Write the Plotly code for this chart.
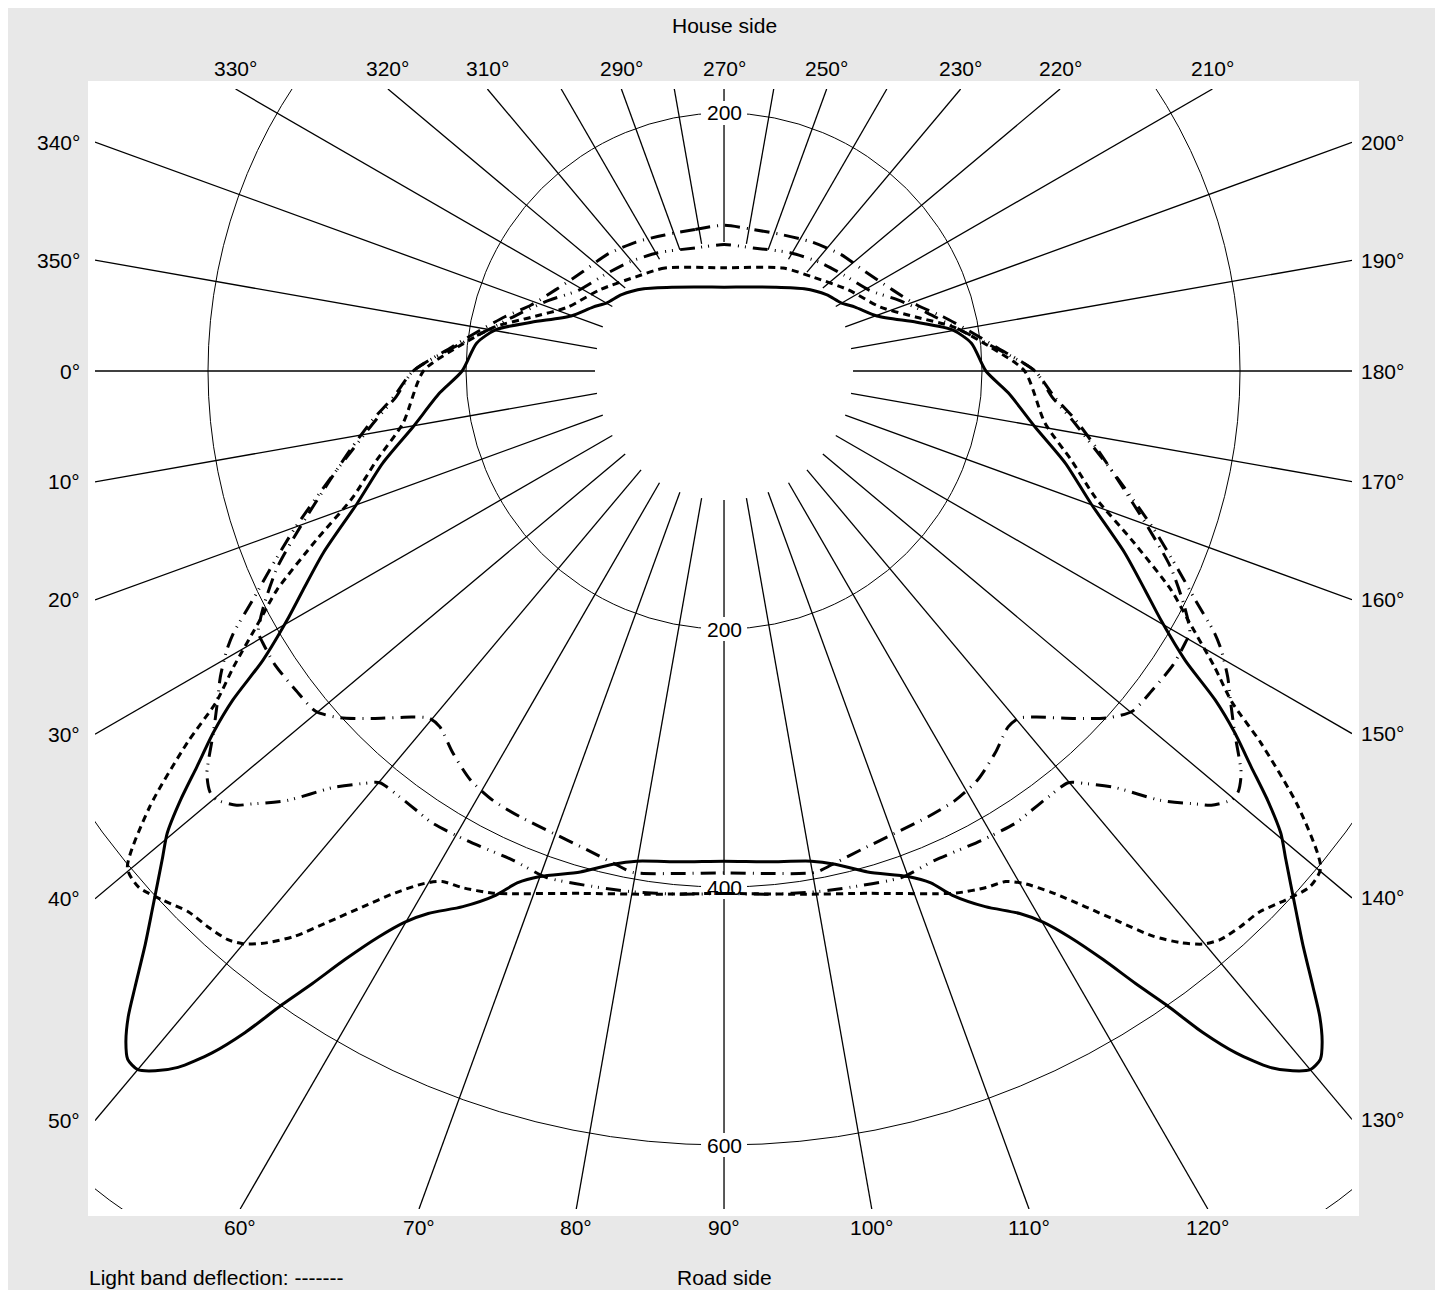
import numpy as np
import plotly.graph_objects as go

# ---------------- data ----------------
# Left half of each (symmetric) curve. Angle in degrees:
# -90 = house side (up), 0 = "0°" (left), 90 = road side (down). Values in cd/klm.
SOLID_ANG = [-90, -58.7, -45.7, -36.7, -30.2, -26.0, -19.8, -14.2, -10.2, -6.4, 0,
             4.4, 10.2, 15.1, 19.8, 24.4, 27.5, 29.7, 32.1, 33.8, 35.3,
             36.9, 38.3, 39.7, 41.0, 43.3, 44.7, 46.3, 47.3, 48.3, 49.1,
             50.0, 50.9, 51.9, 53.1, 54.1, 55.1, 56.1, 57.2, 58.6, 59.9,
             61.4, 64.0, 66.5, 68.0, 70.0, 74.0, 77.3, 79.9, 84.9, 90]
SOLID_VAL = [65, 76, 89, 99, 105, 113, 126, 154, 180, 193, 203,
             221, 245, 274, 302, 341, 368, 390, 422, 458, 485,
             511, 537, 561, 577, 609, 631, 661, 681, 697, 706,
             707, 699, 686, 661, 633, 599, 572, 543, 514, 494,
             479, 462, 443, 428, 417, 404, 392, 386, 382, 380]

DASH_ANG = [-90, -60.2, -46.9, -33.2, -22.2, -15.6, -10.9, -5.2, 0,
            9.2, 14.4, 18.8, 22.5, 26.1, 28.2, 31.1, 33.1, 34.7, 37.2,
            39.8, 41.4, 43.3, 45.3, 47.1, 48.9, 50.1, 51.4, 52.8, 54.3,
            56.0, 57.8, 59.7, 61.1, 63.1, 66.0, 68.0, 74.6, 81.6, 90]
DASH_VAL = [80, 92, 100, 115, 131, 155, 181, 207, 233,
            252, 278, 304, 342, 386, 408, 444, 470, 506, 559,
            602, 605, 598, 590, 588, 585, 579, 567, 550, 526,
            501, 478, 460, 452, 449, 443, 437, 420, 410, 405]

LDD_ANG = [-90, -78.4, -66.5, -55.7, -44.8, -34.9, -25.7, -18.9, -13.9, -8.7,
           -5.0, 0, 4.5, 7.9, 11.9, 15.5, 20.2, 23.7, 27.1, 29.3,
           30.5, 33.2, 36.7, 39.8, 42.1, 44.7, 48.0, 49.7, 51.4, 54.6,
           58.2, 61.7, 65.4, 69.7, 74.0, 77.3, 79.7, 85.0, 90]
LDD_VAL = [113, 112, 115, 121, 128, 134, 145, 158, 175, 195,
           212, 241, 257, 275, 296, 317, 350, 378, 401, 414,
           415, 416, 414, 412, 401, 383, 361, 353, 353, 363,
           373, 378, 380, 382, 386, 391, 395, 391, 389]

DDD_ANG = [-90, -76.7, -60.8, -48.9, -38.7, -29.0, -22.1, -15.9, -9.8, -5.6,
           0, 4.5, 7.9, 11.9, 15.5, 20.2, 23.7, 25.9, 28.1, 29.3,
           31.3, 33.0, 35.3, 37.9, 39.3, 40.2, 41.7, 42.4, 44.5, 46.8,
           48.8, 50.1, 52.7, 55.5, 57.2, 61.3, 66.7, 70.7, 76.2, 79.8,
           85.2, 90]
DDD_VAL = [98, 98, 105, 112, 119, 129, 146, 164, 186, 207,
           241, 255, 272, 294, 318, 355, 385, 406, 431, 442,
           457, 468, 485, 508, 515, 515, 506, 498, 475, 443,
           425, 416, 415, 416, 417, 415, 413, 416, 412, 410,
           407, 405]

CIRCLE_VALUES = [200, 400, 600, 800]
RADIAL_TICKS = [200, 400, 600]
RAY_ANGLES = list(range(0, 360, 10))
LABEL_ANGLES = [330, 320, 310, 290, 270, 250, 230, 220, 210,
                340, 350, 0, 10, 20, 30, 40, 50,
                200, 190, 180, 170, 160, 150, 140, 130,
                60, 70, 80, 90, 100, 110, 120]
RAY_START = 100

TITLE_TOP = "House side"
TITLE_BOTTOM = "Road side"
FOOTNOTE = "Light band deflection: -------"

# ---------------- layout constants ----------------
X_RANGE = [-487.6, 486.8]
Y_RANGE = [-649.6, 218.6]
W, H = 1443, 1290
M = dict(l=87, r=W - 1344, t=81, b=H - 1201, pad=0)
PLOT_W = W - M["l"] - M["r"]
PLOT_H = H - M["t"] - M["b"]
FONT = "Arial, 'Liberation Sans', Helvetica, sans-serif"
FS = 21
BG = "#e8e8e8"


def to_xy(theta_deg, r):
    t = np.radians(np.asarray(theta_deg, dtype=float))
    r = np.asarray(r, dtype=float)
    return -r * np.cos(t), -r * np.sin(t)


def full_curve(ang, val):
    ang = list(ang)
    val = list(val)
    right_ang = [180 - a for a in reversed(ang[:-1])]
    right_val = list(reversed(val[:-1]))
    return ang + right_ang, val + right_val


def ray_end(theta):
    t = np.radians(theta)
    ux, uy = -np.cos(t), -np.sin(t)
    cands = []
    if ux > 1e-9:
        cands.append((X_RANGE[1] / ux, "right"))
    if ux < -1e-9:
        cands.append((X_RANGE[0] / ux, "left"))
    if uy > 1e-9:
        cands.append((Y_RANGE[1] / uy, "top"))
    if uy < -1e-9:
        cands.append((Y_RANGE[0] / uy, "bottom"))
    tt, side = min(cands)
    return tt * ux, tt * uy, side


fig = go.Figure()

shapes = []
# white plot panel (slightly larger than the clipping rectangle)
shapes.append(dict(type="rect", xref="paper", yref="paper",
                   x0=-7 / PLOT_W, x1=1 + 7 / PLOT_W,
                   y0=-7 / PLOT_H, y1=1 + 8 / PLOT_H,
                   fillcolor="white", line=dict(width=0), layer="below"))
# circles
for rv in CIRCLE_VALUES:
    shapes.append(dict(type="circle", xref="x", yref="y",
                       x0=-rv, x1=rv, y0=-rv, y1=rv,
                       line=dict(color="black", width=1), layer="below"))
# rays
for a in RAY_ANGLES:
    x0, y0 = to_xy(a, RAY_START)
    x1, y1, _ = ray_end(a)
    shapes.append(dict(type="line", xref="x", yref="y",
                       x0=float(x0), y0=float(y0), x1=float(x1), y1=float(y1),
                       line=dict(color="black", width=1.3), layer="below"))

annotations = []
# radial tick labels (with white boxes hiding the grid)
for rv in RADIAL_TICKS:
    for a in (270, 90):
        x, y = to_xy(a, rv)
        if Y_RANGE[0] <= y <= Y_RANGE[1]:
            shapes.append(dict(type="rect", xref="x", yref="y",
                               xsizemode="pixel", ysizemode="pixel",
                               xanchor=float(x), yanchor=float(y),
                               x0=-23, x1=23, y0=-12, y1=12,
                               fillcolor="white", line=dict(width=0),
                               layer="below"))
            annotations.append(dict(x=float(x), y=float(y), xref="x", yref="y",
                                    text=str(rv), showarrow=False,
                                    xanchor="center", yanchor="middle",
                                    font=dict(family=FONT, size=FS, color="black")))

# angle labels at the frame
for a in LABEL_ANGLES:
    x, y, side = ray_end(a)
    ann = dict(x=float(x), y=float(y), xref="x", yref="y", text=f"{a}°",
               showarrow=False, font=dict(family=FONT, size=FS, color="black"))
    if side == "top":
        ann.update(xanchor="center", yanchor="middle", yshift=21)
    elif side == "bottom":
        ann.update(xanchor="center", yanchor="middle", yshift=-18)
    elif side == "left":
        ann.update(xanchor="right", yanchor="middle", xshift=-13)
    else:
        ann.update(xanchor="left", yanchor="middle", xshift=7)
    annotations.append(ann)

annotations.append(dict(x=0, y=1, xref="x", yref="paper", text=TITLE_TOP,
                        showarrow=False, xanchor="center", yanchor="middle",
                        yshift=64, font=dict(family=FONT, size=FS, color="black")))
annotations.append(dict(x=0, y=0, xref="x", yref="paper", text=TITLE_BOTTOM,
                        showarrow=False, xanchor="center", yanchor="middle",
                        yshift=-68, font=dict(family=FONT, size=FS, color="black")))
annotations.append(dict(x=0, y=0, xref="paper", yref="paper", text=FOOTNOTE,
                        showarrow=False, xanchor="left", yanchor="middle",
                        xshift=-8, yshift=-68,
                        font=dict(family=FONT, size=FS, color="black")))

# curves
curves = [
    (SOLID_ANG, SOLID_VAL, "solid"),
    (DASH_ANG, DASH_VAL, "7px,5px"),
    (LDD_ANG, LDD_VAL, "15px,7px,1px,7px"),
    (DDD_ANG, DDD_VAL, "15px,7px,1px,6px,1px,7px"),
]
for ang, val, dash in curves:
    fa, fv = full_curve(ang, val)
    x, y = to_xy(fa, fv)
    fig.add_trace(go.Scatter(x=x, y=y, mode="lines",
                             line=dict(color="black", width=3, dash=dash,
                                       shape="spline", smoothing=0.7),
                             hoverinfo="skip", showlegend=False))

fig.update_layout(
    width=W, height=H, margin=M,
    paper_bgcolor=BG, plot_bgcolor="white",
    showlegend=False,
    xaxis=dict(range=X_RANGE, visible=False, fixedrange=True),
    yaxis=dict(range=Y_RANGE, visible=False, fixedrange=True),
    shapes=shapes, annotations=annotations,
    font=dict(family=FONT, size=FS, color="black"),
)

fig.write_html("out.html", config={"displayModeBar": False},
               post_script="document.documentElement.style.overflow='hidden';"
                           "document.body.style.overflow='hidden';")
